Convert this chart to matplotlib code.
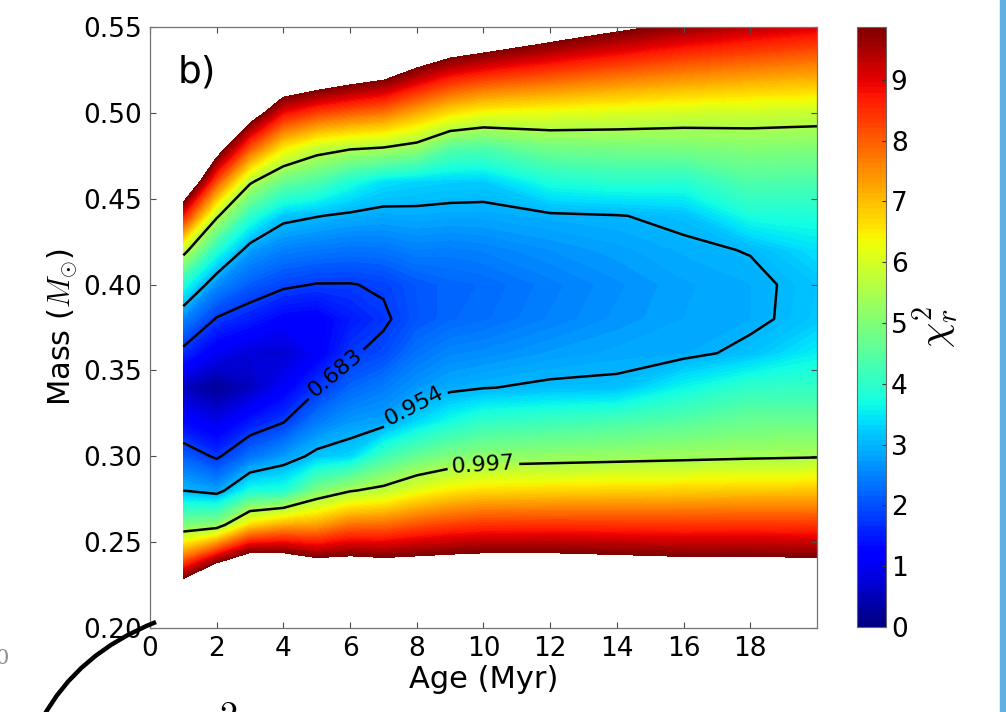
import numpy as np
import matplotlib
matplotlib.use('Agg')
import matplotlib.pyplot as plt
from matplotlib.path import Path
from matplotlib.patches import PathPatch, Rectangle

plt.rcParams['mathtext.fontset'] = 'cm'

# model grid
ages = [1, 2, 3, 4, 5, 6, 7, 8, 9, 10, 12, 14, 16, 18, 20]
masses = [0.20, 0.22, 0.24, 0.26, 0.28, 0.30, 0.32, 0.34, 0.36, 0.38,
          0.40, 0.42, 0.44, 0.46, 0.48, 0.50, 0.52, 0.54, 0.56]

# reduced chi2, one column per age (rows follow masses)
chi2_cols = [
    [15.0, 11.4, 7.95, 4.92, 3.00, 2.14, 1.27, 0.55, 1.63, 2.51, 3.83, 5.79, 8.71, 11.6, 14.5, 17.4, 20.3, 23.2, 26.1],   # 1 Myr
    [18.6, 14.0, 9.41, 5.11, 2.78, 1.72, 0.92, 0.22, 1.02, 1.76, 2.59, 3.86, 5.62, 8.12, 10.6, 13.1, 15.6, 18.1, 20.6],   # 2
    [18.6, 14.6, 10.66, 6.69, 3.75, 2.33, 1.46, 0.55, 0.75, 1.51, 2.12, 2.75, 3.97, 5.62, 8.12, 10.6, 13.1, 15.6, 18.1],  # 3
    [17.3, 13.9, 10.5, 7.18, 3.80, 2.72, 1.78, 1.10, 0.70, 1.20, 1.89, 2.47, 3.15, 4.67, 6.54, 8.84, 11.1, 13.4, 15.7],   # 4
    [15.5, 12.74, 10.0, 7.28, 4.93, 3.15, 2.42, 1.73, 1.10, 1.15, 1.78, 2.39, 3.02, 4.35, 5.86, 8.29, 10.72, 13.1, 15.6], # 5
    [14.7, 12.4, 10.1, 7.80, 5.45, 3.30, 2.72, 2.21, 1.74, 1.48, 1.78, 2.33, 2.91, 3.80, 5.62, 7.98, 10.3, 12.7, 15.0],   # 6
    [14.2, 12.1, 9.98, 7.85, 5.71, 4.18, 2.80, 2.43, 1.95, 1.72, 1.86, 2.36, 2.85, 3.40, 5.52, 7.74, 9.98, 12.2, 14.5],   # 7
    [13.95, 12.0, 10.06, 8.12, 6.18, 4.65, 3.33, 2.70, 2.35, 2.06, 2.08, 2.48, 2.88, 3.30, 5.24, 7.16, 9.24, 11.3, 13.4], # 8
    [13.8, 11.96, 10.14, 8.32, 6.50, 4.95, 3.73, 2.89, 2.55, 2.22, 2.20, 2.45, 2.85, 3.25, 4.50, 6.62, 8.65, 10.7, 12.7], # 9
    [13.8, 12.0, 10.2, 8.44, 6.66, 5.12, 4.03, 2.98, 2.60, 2.30, 2.25, 2.50, 2.85, 3.22, 4.40, 6.31, 8.34, 10.4, 12.4],   # 10
    [13.7, 11.97, 10.2, 8.47, 6.72, 5.19, 4.17, 3.08, 2.75, 2.50, 2.45, 2.65, 2.93, 3.79, 4.84, 6.18, 7.98, 9.78, 11.6],  # 12
    [13.5, 11.8, 10.1, 8.44, 6.76, 5.26, 4.30, 3.10, 2.85, 2.68, 2.63, 2.78, 2.98, 3.94, 4.89, 6.07, 7.68, 9.30, 10.9],   # 14
    [13.3, 11.6, 10.0, 8.42, 6.80, 5.33, 4.48, 3.63, 2.88, 2.82, 2.80, 2.92, 3.10, 3.90, 4.93, 5.94, 7.43, 8.91, 10.4],   # 16
    [13.2, 11.5, 10.0, 8.44, 6.85, 5.40, 4.71, 4.03, 3.12, 2.90, 2.90, 3.02, 3.76, 4.40, 5.04, 5.88, 7.25, 8.63, 10.0],   # 18
    [13.0, 11.4, 9.95, 8.41, 6.88, 5.45, 4.70, 4.05, 3.55, 3.18, 3.15, 3.40, 3.80, 4.35, 5.00, 5.82, 7.11, 8.39, 9.68],   # 20
]

# chi2 levels of the confidence contours and their labels
conf_levels = [1.8, 3.0, 5.5]
conf_labels = ['0.683', '0.954', '0.997']
chi2_max = 9.87

chi2 = np.array(chi2_cols).T

fig = plt.figure(figsize=(10.06, 7.12), dpi=100)
ax = fig.add_axes([0.1491, 0.1180, 0.6630, 0.8441])
cax = fig.add_axes([0.8519, 0.1194, 0.0288, 0.8427])

cf = ax.contourf(ages, masses, chi2, levels=np.linspace(0, chi2_max, 120), cmap='jet')
cs = ax.contour(ages, masses, chi2, levels=conf_levels, colors='k', linewidths=1.8)
ax.clabel(cs, fmt=dict(zip(cs.levels, conf_labels)), fontsize=16, inline_spacing=6,
          manual=[(5.4, 0.352), (8.0, 0.327), (10.0, 0.294)])

ax.set_xlim(0, 20)
ax.set_ylim(0.20, 0.55)
ax.set_xticks(range(0, 20, 2))
ax.set_yticks([0.20, 0.25, 0.30, 0.35, 0.40, 0.45, 0.50, 0.55])
ax.set_yticklabels(['%.2f' % v for v in ax.get_yticks()])
ax.tick_params(direction='in', length=4, width=0.8, top=True, right=True,
               labelsize=19, pad=6, color='0.3')
for s in ax.spines.values():
    s.set_color('0.45')
    s.set_linewidth(0.9)
ax.set_xlabel('Age (Myr)', fontsize=22, labelpad=2)
ax.set_ylabel(r'Mass ($M_{\odot}$)', fontsize=22, labelpad=3)
ax.text(0.042, 0.955, 'b)', transform=ax.transAxes, fontsize=27, va='top', ha='left')

cb = fig.colorbar(cf, cax=cax, ticks=range(10))
cb.ax.tick_params(direction='in', length=3, width=0.8, labelsize=19, color='0.2')
cb.outline.set_edgecolor('0.4')
cb.set_label(r'$\chi^2_r$', fontsize=29, labelpad=2)

# bits of the neighbouring page visible around the crop
fig.add_artist(Rectangle((1000 / 1006, 0), 6 / 1006, 1, transform=fig.transFigure,
                         color='#5fb2e0', zorder=0))
arc = Path([(42 / 1006, -0.01), (77.5 / 1006, 59 / 712), (156 / 1006, 90 / 712)],
           [Path.MOVETO, Path.CURVE3, Path.CURVE3])
fig.add_artist(PathPatch(arc, transform=fig.transFigure, fill=False, lw=3.2,
                         color='k', zorder=10, clip_on=False))
fig.text(-0.004, 54 / 712, '0', fontsize=15, color='0.55', family='DejaVu Serif',
         va='center', ha='left')
fig.text(219 / 1006, 13 / 712, '$2$', fontsize=26, va='top', ha='left')

fig.savefig('out.png', dpi=100)
